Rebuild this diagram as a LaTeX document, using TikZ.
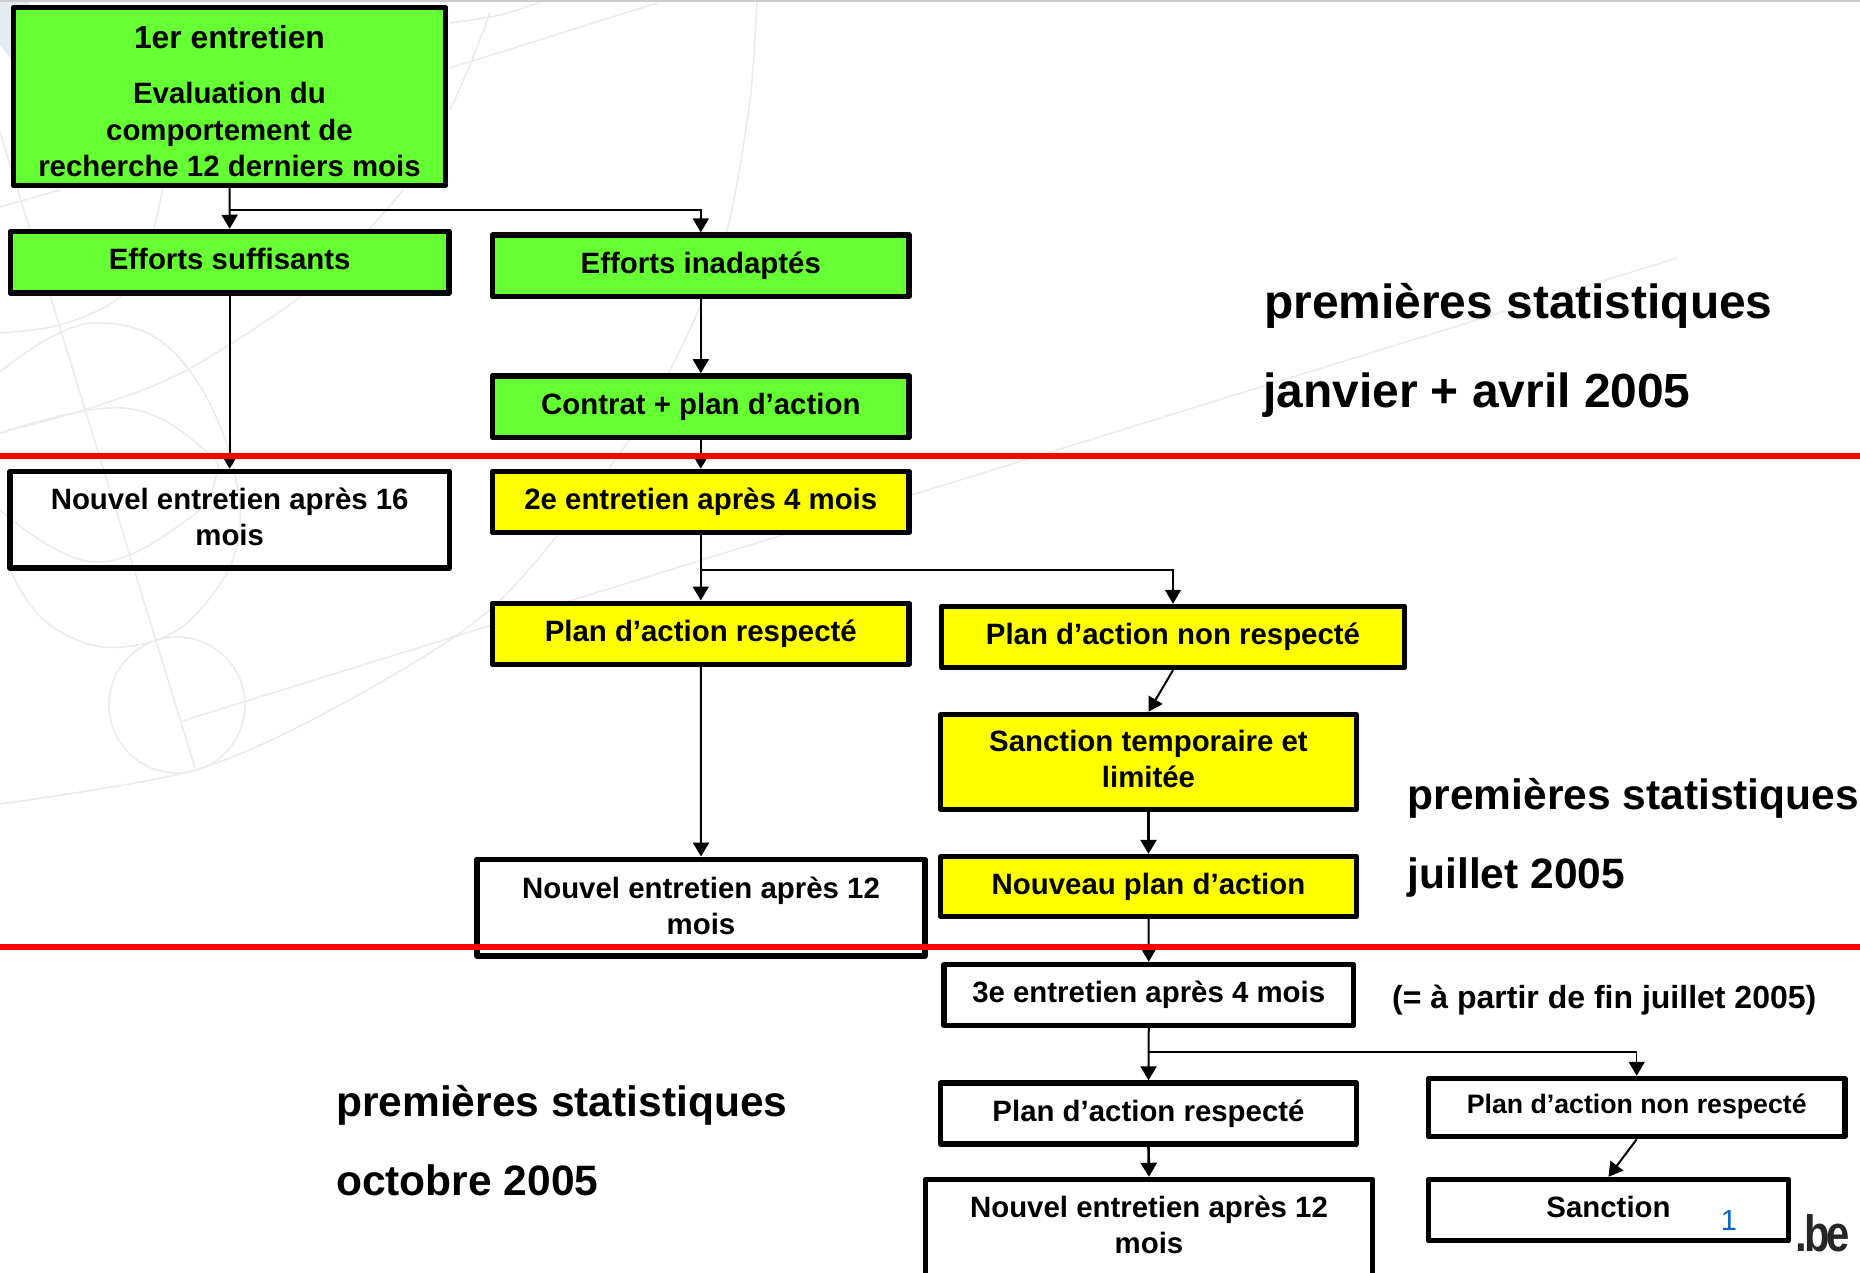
\documentclass[tikz,border=0pt]{standalone}
\usepackage{fontspec}
\setmainfont{Liberation Sans}[Ligatures={TeX,NoCommon}]
\usetikzlibrary{arrows.meta}
\newcommand\lbl[2]{\smash{\raisebox{#1pt}{\begin{tabular}[t]{@{}c@{}}#2\end{tabular}}}}
\definecolor{gr}{HTML}{66FF33}
\definecolor{ye}{HTML}{FFFF00}
\definecolor{wm}{HTML}{EBEBEB}
\definecolor{patch}{HTML}{E3EAF0}
\tikzset{
  bx/.style={draw=black,line width=5.4pt,line join=round,inner sep=0pt,align=center,text=black,
    font=\bfseries\fontsize{29.4}{36.5}\selectfont},
  grbox/.style={bx,fill=gr},
  yebox/.style={bx,fill=ye},
  cn/.style={draw=black,line width=2pt,-{Triangle[length=14pt,width=16pt]}},
  big/.style={anchor=base west,inner sep=0pt,font=\bfseries\fontsize{42.5}{50}\selectfont},
  bigger/.style={anchor=base west,inner sep=0pt,font=\bfseries\fontsize{47.9}{56}\selectfont},
  redl/.style={draw={rgb,255:red,255;green,0;blue,0},line width=5.7pt},
  wmk/.style={draw=wm,line width=1.5pt}
}
\begin{document}
\begin{tikzpicture}[x=1pt,y=-1pt]
\useasboundingbox (0,0) rectangle (1860,1273);
\clip (0,0) rectangle (1860,1273);
\fill[white] (0,0) rectangle (1860,1273);
% watermark
\fill[patch] (0,0) -- (30,0) -- (12,60) -- (0,45) -- cycle;
\draw[wmk] plot[smooth] coordinates {(0,804) (195,770) (340,705) (493,607) (620,453) (685,340) (727,230) (750,100) (757,0)};
\draw[wmk] (182,721) -- (1677,258);
\draw[wmk] (177,705) circle[radius=68];
\draw[wmk] (0,132) -- (195,768);
\draw[wmk] plot[smooth,tension=0.7] coordinates {(0,372) (93,323) (187,367) (240,510) (200,610) (123,647) (50,625) (10,570)};
\draw[wmk] plot[smooth,tension=0.7] coordinates {(0,433) (123,408) (205,450) (215,480) (187,520) (93,562) (0,510)};
\draw[wmk] plot[smooth] coordinates {(0,433) (100,405) (187,370) (300,297) (370,228) (403,190)};
\draw[wmk] plot[smooth] coordinates {(0,333) (60,325) (120,297) (150,240) (163,187)};
\draw[wmk] (0,207) -- (60,190);
\draw[wmk] (450,68) -- (657,3);
\draw[wmk] plot[smooth] coordinates {(450,110) (470,65) (490,13)};
\draw[wmk] plot[smooth] coordinates {(450,23) (500,15) (547,0)};
\fill[black!20] (0,0) rectangle (1860,2.5);
% boxes
\node[grbox,minimum width=432,minimum height=178] (b1) at (229.5,96.5) {\lbl{47.5}{{\fontsize{31.8}{36.5}\selectfont 1er entretien}\\[18.5pt]Evaluation du\\comportement de\\recherche 12 derniers mois}};
\node[grbox,minimum width=438.5,minimum height=61.7] (es) at (229.7,262.3) {\lbl{-7.4}{Efforts suffisants}};
\node[grbox,minimum width=416.7,minimum height=61.3] (ei) at (700.8,265.8) {\lbl{-8}{Efforts inadaptés}};
\node[grbox,minimum width=416.7,minimum height=61.7] (cp) at (700.8,406.7) {\lbl{-7.6}{Contrat + plan d’action}};
\node[yebox,minimum width=416.7,minimum height=61] (e2) at (700.8,502) {\lbl{-7}{2e entretien après 4 mois}};
\node[bx,minimum width=439.3,minimum height=96.6] (n16) at (229.7,519.8) {\lbl{10.6}{Nouvel entretien après 16\\mois}};
\node[yebox,minimum width=416.7,minimum height=61] (pr) at (700.8,633.7) {\lbl{-8}{Plan d’action respecté}};
\node[yebox,minimum width=463,minimum height=61] (pn) at (1173,637) {\lbl{-7.2}{Plan d’action non respecté}};
\node[yebox,minimum width=415.5,minimum height=95] (st) at (1148.5,762) {\lbl{10.8}{Sanction temporaire et\\limitée}};
\node[yebox,minimum width=415.5,minimum height=60] (np) at (1148.5,886.5) {\lbl{-8.4}{Nouveau plan d’action}};
\node[bx,minimum width=448,minimum height=96.6] (n12) at (701,907.5) {\lbl{9.5}{Nouvel entretien après 12\\mois}};
\node[bx,minimum width=409.5,minimum height=61] (e3) at (1148.75,995) {\lbl{-7}{3e entretien après 4 mois}};
\node[bx,minimum width=416,minimum height=61] (prw) at (1148.5,1113.5) {\lbl{-7.5}{Plan d’action respecté}};
\node[bx,minimum width=416.5,minimum height=58,font=\bfseries\fontsize{26.7}{33}\selectfont] (pnw) at (1636.7,1107.5) {\lbl{-5.8}{Plan d’action non respecté}};
\node[bx,minimum width=447,minimum height=111] (nb) at (1149,1235) {\lbl{18}{Nouvel entretien après 12\\mois}};
\node[bx,minimum width=360,minimum height=61] (sa) at (1608.5,1210) {\lbl{-7}{Sanction}};
% junctions
\coordinate (j1) at (b1.south |- 0,210);
\coordinate (j2) at (e2.south |- 0,570);
\coordinate (j3) at (e3.south |- 0,1052);
% connectors
\draw[cn] (b1.south) -- (es.north);
\draw[cn,line width=1.5pt] (j1) -| (ei.north);
\draw[cn] (es.south) -- (n16.north);
\draw[cn] (ei.south) -- (cp.north);
\draw[cn] (cp.south) -- (e2.north);
\draw[cn] (e2.south) -- (pr.north);
\draw[cn,line width=1.5pt] (j2) -| (pn.north);
\draw[cn] (pr.south) -- (n12.north);
\draw[cn] (pn.south) -- (st.north);
\draw[cn,line width=2.6pt] (st.south) -- (np.north);
\draw[cn] (np.south) -- (e3.north);
\draw[cn] (e3.south) -- (prw.north);
\draw[cn,line width=1.5pt] (j3) -| (pnw.north);
\draw[cn,line width=2.6pt] (prw.south) -- (nb.north);
\draw[cn] (pnw.south) -- (sa.north);
% side texts
\node[bigger] (s1a) at (1264,318.5) {premières statistiques};
\node[bigger] (s1b) at (1263,407.5) {janvier + avril 2005};
\node[big] (s2a) at (1407.5,809) {premières statistiques};
\node[big] (s2b) at (1407.5,888) {juillet 2005};
\node[big] (s3a) at (336,1116.5) {premières statistiques};
\node[big] (s3b) at (336,1195) {octobre 2005};
\node[anchor=base west,inner sep=0pt,font=\bfseries\fontsize{32}{38}\selectfont] (fj) at (1392,1008.5) {(= à partir de fin juillet 2005)};
\node[anchor=base,inner sep=0pt,text={rgb,255:red,0;green,102;blue,204},font=\fontsize{29}{34}\selectfont] (pg) at (1729,1230) {1};
\node[anchor=base west,inner sep=0pt,text=black!85,font=\bfseries\fontsize{51}{56}\selectfont] (be) at (1795,1251) {\scalebox{0.82}[1]{.\kern-3pt b\kern-4pt e}};
% red rules
\coordinate (r1l) at (0,456); \coordinate (r1r) at (1860,456);
\coordinate (r2l) at (0,947); \coordinate (r2r) at (1860,947);
\draw[redl] (r1l) -- (r1r);
\draw[redl] (r2l) -- (r2r);
\end{tikzpicture}
\end{document}
